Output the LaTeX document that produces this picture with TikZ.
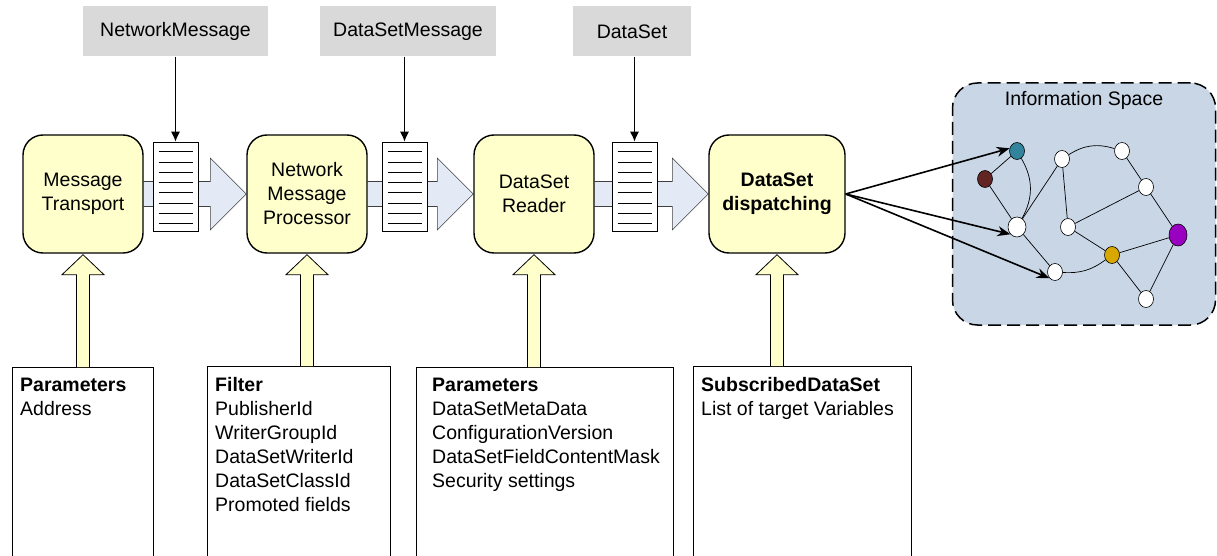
\documentclass[tikz,border=0pt]{standalone}
\usepackage{fontspec}
\setmainfont{Liberation Sans}
\usetikzlibrary{arrows.meta,positioning,shapes.geometric,backgrounds}

\definecolor{procyellow}{HTML}{FFFFCC}
\definecolor{msggray}{HTML}{D9D9D9}
\definecolor{flowblue}{HTML}{E3EAF6}
\definecolor{infoblue}{HTML}{C8D6E6}
\definecolor{dotteal}{HTML}{31849B}
\definecolor{dotbrown}{HTML}{632523}
\definecolor{dotgold}{HTML}{D9A800}
\definecolor{dotpurple}{HTML}{9900C0}

\begin{document}
\begin{tikzpicture}[x=1pt,y=-1pt,font=\fontsize{19.5}{24}\selectfont]
\tikzset{procbox/.style={draw,line width=1.4pt,fill=procyellow,rounded corners=20pt,
    minimum width=120pt,minimum height=118pt,align=center,inner sep=2pt}}
\tikzset{msgbox/.style={fill=msggray,minimum height=50pt,inner sep=0pt}}
\tikzset{queue/.style={draw,line width=0.7pt,fill=white,minimum width=45pt,minimum height=89pt,inner sep=0pt}}
\tikzset{parbox/.style={draw,line width=0.8pt,fill=white,anchor=north west,minimum height=200pt,inner sep=0pt}}
\tikzset{partext/.style={anchor=north west,align=left,inner sep=0pt}}
\tikzset{flow/.style={draw=black!75,line width=0.6pt,fill=flowblue}}
\tikzset{feed/.style={draw=black,line width=0.8pt,fill=procyellow}}
\tikzset{fetch/.style={line width=1pt,-{Latex[length=10pt,width=9pt]}}}
\tikzset{dispatch/.style={line width=1.6pt,-{Stealth[length=13pt,width=10pt]}}}
\tikzset{dot/.style={ellipse,draw,line width=0.6pt,fill=white,minimum width=15pt,minimum height=17pt,inner sep=0pt}}
\tikzset{link/.style={line width=0.7pt}}

\useasboundingbox (0,0) rectangle (1217,556);
\clip (0,0) rectangle (1217,556);

% processing chain
\node[procbox] (mt) at (83,194) {Message\\Transport};
\node[procbox] (np) at (307,194) {Network\\Message\\Processor};
\node[procbox] (dr) at (534,194) {DataSet\\Reader};
\node[procbox,minimum width=136pt,font=\fontsize{19.5}{24}\selectfont\bfseries] (dd) at (777,194) {DataSet\\dispatching};

\node[queue] (q1) at (175.5,186.5) {};
\node[queue] (q2) at (404.5,186.5) {};
\node[queue] (q3) at (634.5,186.5) {};
\foreach \q in {q1,q2,q3}
  \foreach \i in {1,...,8}
    \draw[line width=0.7pt] ([xshift=6pt,yshift=-\i*10.2pt]\q.north west) -- ([xshift=-5pt,yshift=-\i*10.2pt]\q.north east);

\node[msgbox,minimum width=185pt,above=85pt of q1] (nm) {NetworkMessage};
\node[msgbox,minimum width=176pt,above=85pt of q2,xshift=3.5pt] (dsm) {DataSetMessage};
\node[msgbox,minimum width=118pt,above=85pt of q3,xshift=-2.5pt] (ds) {DataSet};
\draw[fetch] (q1.north |- nm.south) -- (q1.north);
\draw[fetch] (q2.north |- dsm.south) -- (q2.north);
\draw[fetch] (q3.north |- ds.south) -- (q3.north);

\begin{scope}[on background layer]
\foreach \a/\b in {mt/np,np/dr,dr/dd}
  \draw[flow] ([yshift=12.5pt]\a.east) -- ([xshift=-36pt,yshift=12.5pt]\b.west)
    -- ([xshift=-36pt,yshift=36pt]\b.west) -- (\b.west) -- ([xshift=-36pt,yshift=-36pt]\b.west)
    -- ([xshift=-36pt,yshift=-12.5pt]\b.west) -- ([yshift=-12.5pt]\a.east);
\end{scope}

% configuration
\node[parbox,minimum width=141pt] (p1) at (12,367) {};
\node[parbox,minimum width=183pt] (p2) at (207,366) {};
\node[parbox,minimum width=257pt] (p3) at (416,367) {};
\node[parbox,minimum width=218pt] (p4) at (693,366) {};
\node[partext] (t1) at ([xshift=8pt,yshift=-11pt]p1.north west) {\textbf{Parameters}\\Address};
\node[partext] (t2) at ([xshift=8pt,yshift=-11pt]p2.north west) {\textbf{Filter}\\PublisherId\\WriterGroupId\\DataSetWriterId\\DataSetClassId\\Promoted fields};
\node[partext] (t3) at ([xshift=16pt,yshift=-11pt]p3.north west) {\textbf{Parameters}\\DataSetMetaData\\ConfigurationVersion\\DataSetFieldContentMask\\Security settings};
\node[partext] (t4) at ([xshift=8pt,yshift=-11pt]p4.north west) {\textbf{SubscribedDataSet}\\List of target Variables};

\foreach \b/\p in {mt/p1,np/p2,dr/p3,dd/p4}
  \draw[feed] ([xshift=-6.5pt]\b.south |- \p.north) -- ([xshift=-6.5pt,yshift=-21pt]\b.south)
    -- ([xshift=-21pt,yshift=-21pt]\b.south) -- ([yshift=-1pt]\b.south) -- ([xshift=21pt,yshift=-21pt]\b.south)
    -- ([xshift=6.5pt,yshift=-21pt]\b.south) -- ([xshift=6.5pt]\b.south |- \p.north);

% information space
\node[draw,dash pattern=on 13pt off 6pt,line width=1.5pt,fill=infoblue,rounded corners=25pt,
  minimum width=263pt,minimum height=242pt] (info) at (1084,204) {};
\node[below=9pt of info.north,inner sep=0pt] (infotitle) {Information Space};

\node[dot,fill=dotteal] (teal) at (1017,151) {};
\node[dot,fill=dotbrown] (brown) at (985,179) {};
\node[dot,minimum width=18pt,minimum height=20pt] (w1) at (1017,227) {};
\node[dot] (w2) at (1055,272) {};
\node[dot] (w3) at (1062,159) {};
\node[dot] (w4) at (1122,151) {};
\node[dot] (w5) at (1146,187) {};
\node[dot] (w6) at (1068,227) {};
\node[dot,fill=dotgold] (gold) at (1112,255) {};
\node[dot,fill=dotpurple,minimum width=18pt,minimum height=22pt] (purple) at (1178,235) {};
\node[dot] (w7) at (1146,299) {};

\draw[link] (teal) -- (brown) (brown) -- (w1) (w1) -- (w3) (w1) -- (w2) (w3) -- (w6)
  (w4) -- (w5) (w5) -- (w6) (w5) -- (purple) (w6) -- (gold) (gold) -- (purple)
  (gold) -- (w7) (purple) -- (w7);
\draw[link] (teal) to[bend left=30] (w1);
\draw[link] (w3) to[bend left=25] (w4);
\draw[link] (w2) to[bend right=20] (gold);

\draw[dispatch] (dd.east) -- (teal.160);
\draw[dispatch] (dd.east) -- (w1.south west);
\draw[dispatch] (dd.east) -- (w2.south west);
\end{tikzpicture}
\end{document}
